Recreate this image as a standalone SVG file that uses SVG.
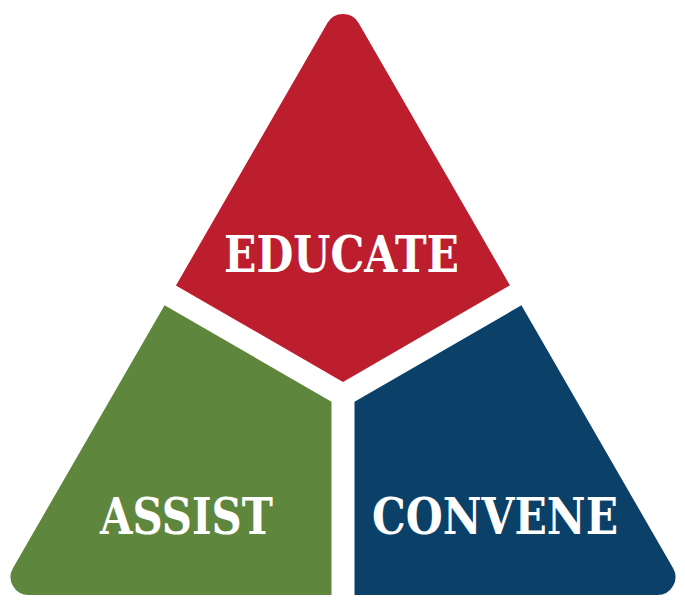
<svg xmlns="http://www.w3.org/2000/svg" width="685" height="601" viewBox="0 0 685 601">
  <style>
    .lbl { font-family: "DejaVu Serif", "Liberation Serif", serif; font-weight: bold; font-size: 51px; fill: #ffffff; }
  </style>
  <defs>
    <clipPath id="tri">
      <path d="M 327.4 23 A 18 18 0 0 1 358.6 23 L 673 568 A 18 18 0 0 1 657.4 595 L 28.6 595 A 18 18 0 0 1 13 568 Z"/>
    </clipPath>
  </defs>
  <rect width="685" height="601" fill="#ffffff"/>
  <g clip-path="url(#tri)">
    <g id="educate">
      <polygon points="343,382 0,184 0,-10 685,-10 685,184" fill="#BD1E2E"/>
    </g>
    <g id="assist">
      <polygon points="331.5,401.7 0,210.3 0,601 331.5,601" fill="#5E863C"/>
    </g>
    <g id="convene">
      <polygon points="354.5,401.7 685,210.9 685,601 354.5,601" fill="#0B4168"/>
    </g>
  </g>
  <g id="labels">
    <text class="lbl" x="224" y="272" textLength="235" lengthAdjust="spacingAndGlyphs">EDUCATE</text>
    <text class="lbl" x="100" y="534" textLength="173" lengthAdjust="spacingAndGlyphs">ASSIST</text>
    <text class="lbl" x="372" y="534" textLength="246" lengthAdjust="spacingAndGlyphs">CONVENE</text>
  </g>
  <g id="connectors"></g>
</svg>
